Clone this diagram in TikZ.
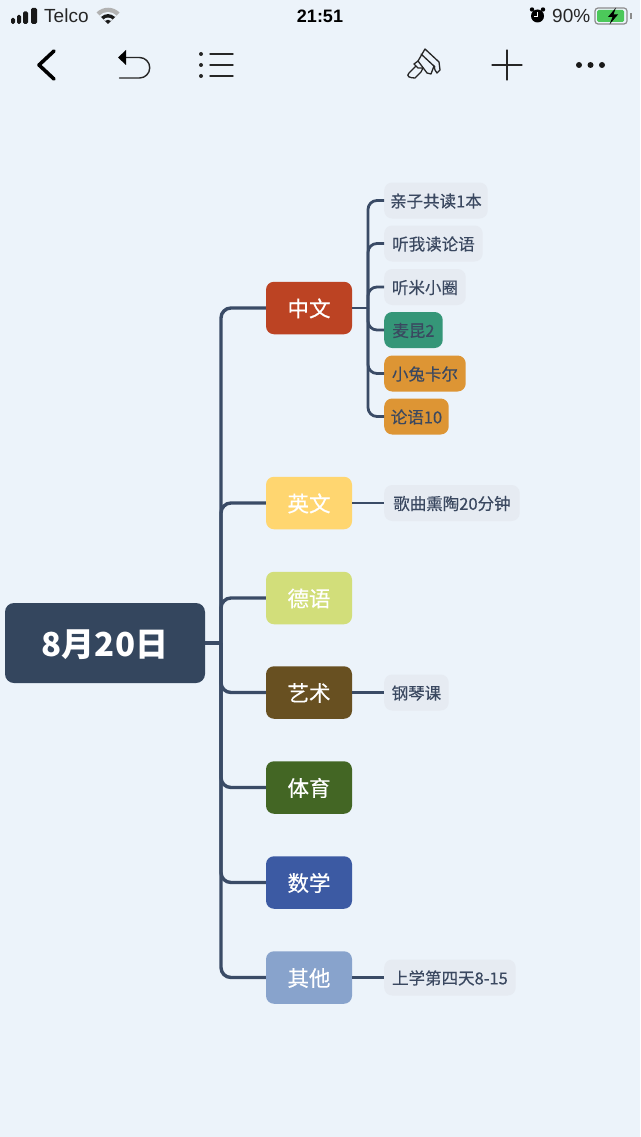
\documentclass[tikz,border=0pt]{standalone}
\usepackage{fontspec}
\setmainfont{Liberation Sans}
\newfontfamily\cjk{Noto Sans CJK SC}
\newfontfamily\cjkm[FakeBold=0.35]{Noto Sans CJK SC}
\definecolor{bgc}{HTML}{ECF3FA}
\definecolor{navy}{HTML}{34465E}
\definecolor{linec}{HTML}{3A4B66}
\definecolor{leafc}{HTML}{E6EBF2}
\definecolor{leaftxt}{HTML}{3A4860}
\definecolor{cred}{RGB}{188,67,35}
\definecolor{cyel}{RGB}{255,214,112}
\definecolor{clime}{RGB}{210,222,122}
\definecolor{cbrown}{RGB}{104,80,33}
\definecolor{cgreen}{RGB}{67,102,36}
\definecolor{cblue}{RGB}{60,90,163}
\definecolor{csky}{RGB}{136,163,204}
\definecolor{cteal}{RGB}{53,150,120}
\definecolor{corange}{RGB}{221,149,52}
\definecolor{cbatt}{RGB}{76,200,90}
\tikzset{
  rootbox/.style={draw=none,fill=navy,rounded corners=9pt,minimum width=200pt,minimum height=80pt,inner sep=0pt,text=white,text height=26pt,text depth=0pt,font=\cjk\bfseries\fontsize{33}{33}\selectfont},
  branchbox/.style={draw=none,fill=#1,rounded corners=8pt,minimum width=86pt,minimum height=52.5pt,inner sep=0pt,text=white,text height=17.4pt,text depth=0pt,font=\cjkm\fontsize{21.5}{22}\selectfont},
  leafbox/.style={draw=none,fill=#1,rounded corners=8pt,minimum height=36pt,inner sep=0pt,anchor=west,text=leaftxt,text height=13.6pt,text depth=0pt,font=\cjkm\fontsize{16.5}{17}\selectfont},
  leafbox/.default=leafc,
  mainline/.style={draw=linec,line width=3.4pt,rounded corners=10pt},
  subline/.style={draw=linec,line width=2.8pt,rounded corners=9pt},
  icon/.style={draw=black,line width=3.6pt,line cap=round,line join=round},
  thinicon/.style={draw=black!85,line width=1.3pt,line cap=round,line join=round},
  statustext/.style={inner sep=0pt,text=black!85,font=\fontsize{19}{19}\selectfont}
}
\begin{document}
\begin{tikzpicture}[x=1pt,y=-1pt]
\useasboundingbox (0,0) rectangle (640,1137);
\fill[bgc] (0,0) rectangle (640,1137);
\node[rootbox] (root) at (105,643) {8月20日};
\node[branchbox=cred] (b1) at (309,308) {中文};
\node[branchbox=cyel] (b2) at (309,503) {英文};
\node[branchbox=clime] (b3) at (309,598) {德语};
\node[branchbox=cbrown] (b4) at (309,692.5) {艺术};
\node[branchbox=cgreen] (b5) at (309,787.5) {体育};
\node[branchbox=cblue] (b6) at (309,882.5) {数学};
\node[branchbox=csky] (b7) at (309,977.5) {其他};
\node[leafbox,minimum width=103.5pt] (l1) at (384,200.5) {亲子共读1本};
\node[leafbox,minimum width=98.5pt] (l2) at (384,243.5) {听我读论语};
\node[leafbox,minimum width=81.5pt] (l3) at (384,287) {听米小圈};
\node[leafbox=cteal,minimum width=58.5pt] (l4) at (384,330) {麦昆2};
\node[leafbox=corange,minimum width=81.5pt] (l5) at (384,373.5) {小兔卡尔};
\node[leafbox=corange,minimum width=64.5pt] (l6) at (384,416.5) {论语10};
\node[leafbox,minimum width=135.5pt] (l7) at (384,503) {歌曲熏陶20分钟};
\node[leafbox,minimum width=64.5pt] (l8) at (384,692.5) {钢琴课};
\node[leafbox,minimum width=131.5pt] (l9) at (384,977.5) {上学第四天8-15};
\coordinate (spine) at (221,643);
\coordinate (sub) at (368,308);
\draw[mainline,rounded corners=0pt] (root.east) -- (spine);
\foreach \b in {b1,b2,b3,b4,b5,b6,b7}{\draw[mainline] (spine) |- (\b.west);}
\draw[subline,rounded corners=0pt] (b1.east) -- (sub);
\foreach \l in {l1,l2,l3,l4,l5,l6}{\draw[subline] (sub) |- (\l.west);}
\draw[subline] (b2.east) -- (l7.west);
\draw[subline] (b4.east) -- (l8.west);
\draw[subline] (b7.east) -- (l9.west);
% status bar
\fill[black!90,rounded corners=1.5pt] (11,18) rectangle (15,24);
\fill[black!90,rounded corners=1.5pt] (17,15) rectangle (21,24);
\fill[black!90,rounded corners=1.5pt] (23,11.5) rectangle (28,24);
\fill[black!90,rounded corners=1.5pt] (31,8) rectangle (37,24);
\node[statustext,anchor=base west] (telco) at (44,23) {Telco};
\fill[black!30] (108,24) -- (96.5,12.5) arc[start angle=-135,end angle=-45,radius=16.3] -- cycle;
\fill[bgc] (108,24) -- (99.5,15.5) arc[start angle=-135,end angle=-45,radius=12] -- cycle;
\fill[black!90] (108,24) -- (101,17) arc[start angle=-135,end angle=-45,radius=9.9] -- cycle;
\fill[bgc] (108,24) -- (103.5,19.5) arc[start angle=-135,end angle=-45,radius=6.4] -- cycle;
\fill[black!90] (108,24) -- (105,21) arc[start angle=-135,end angle=-45,radius=4.2] -- cycle;
\node[statustext,anchor=base,text=black,font=\bfseries\fontsize{18}{18}\selectfont] (clock) at (320,23) {21:51};
\fill[black] (537.5,16) circle[radius=6.5];
\fill[black] (532,9.5) circle[radius=2.2] (543,9.5) circle[radius=2.2];
\draw[white,line width=1pt] (537.5,12) -- (537.5,16.5) -- (534,16.5);
\node[statustext,anchor=base west] (pct) at (552,23) {90\%};
\draw[black!45,line width=1.2pt,rounded corners=3pt] (595,8) rectangle (627,24);
\fill[black!45] (630,13) rectangle (631.5,19);
\fill[cbatt,rounded corners=1.5pt] (597,10) rectangle (624,22);
\fill[black] (616,7.5) -- (608,17) -- (612.5,17) -- (609.5,24.5) -- (618,14.5) -- (613.5,14.5) -- cycle;
% toolbar icons
\draw[icon] (54,51) -- (39,65) -- (54,79);
\draw[thinicon,line width=1.4pt] (124,57.5) -- (139.5,57.5) arc[start angle=-90,end angle=90,radius=10.25] -- (119.5,78);
\fill[black] (118,57.5) -- (126,50) -- (126,65) -- cycle;
\foreach \yy in {54,65,76}{
  \fill[black!85] (201,\yy) circle[radius=2];
  \draw[thinicon,line width=1.4pt] (210,\yy) -- (233,\yy);
}
\draw[thinicon] (507,50) -- (507,80) (492,65) -- (522,65);
\foreach \xx in {579,590.5,602}{\fill[black!90] (\xx,65) circle[radius=3];}
% paintbrush
\draw[thinicon] (425,49) -- (439,62) -- (440,70) -- (437,73) -- (435,70) -- (434,66) -- (431,74) -- (427,73) -- (418,61) -- cycle;
\draw[thinicon] (421,54) -- (435,67);
\draw[thinicon] (418,61) -- (414,64) -- (418,68) -- (423,68) -- (421,72) -- (415,78) to[out=180,in=225,looseness=1.6] (409,73) -- (416,66);
\end{tikzpicture}
\end{document}
